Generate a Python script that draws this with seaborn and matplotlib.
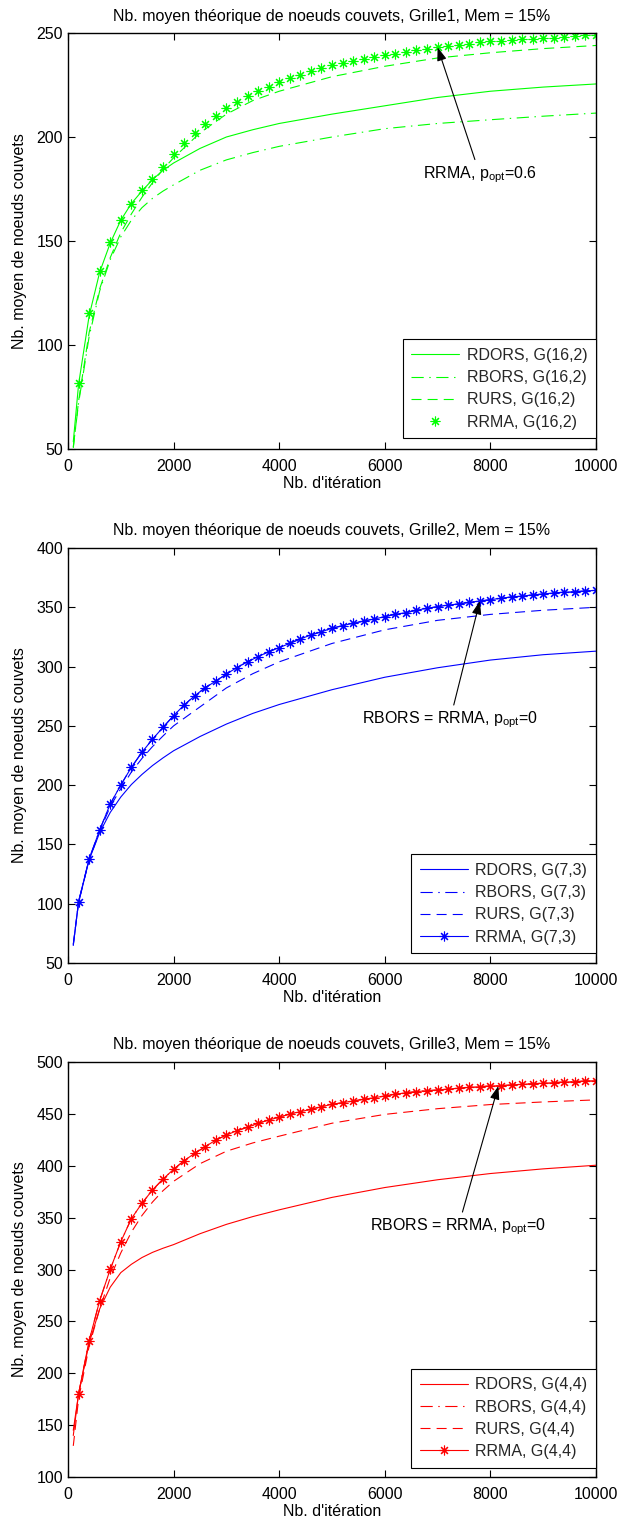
import matplotlib
matplotlib.use("Agg")
import matplotlib.pyplot as plt
import seaborn as sns

# ---------------- data ----------------
X_LINE = [100, 200, 400, 600, 800, 1000, 1200, 1400, 1600, 1800, 2000,
          2500, 3000, 3500, 4000, 5000, 6000, 7000, 8000, 9000, 10000]
X_RRMA = [200, 400, 600, 800, 1000, 1200, 1400, 1600, 1800, 2000,
          2200, 2400, 2600, 2800, 3000, 3200, 3400, 3600, 3800, 4000,
          4200, 4400, 4600, 4800, 5000, 5200, 5400, 5600, 5800, 6000,
          6200, 6400, 6600, 6800, 7000, 7200, 7400, 7600, 7800, 8000,
          8200, 8400, 8600, 8800, 9000, 9200, 9400, 9600, 9800, 10000]
X_START = 100

# Grille1, G(16,2)
RDORS_1 = [53.5, 81, 114, 135, 149, 160, 168, 174, 179.5, 184, 187.5,
           194.5, 200, 203.5, 206.5, 211, 215, 219, 222, 224, 225.5]
RBORS_1 = [51, 72, 104, 126, 141, 152, 160, 166, 170.5, 174, 177,
           184, 189, 192.5, 195.5, 200, 204, 206.5, 208.3, 210, 211.5]
RURS_1 = [50.5, 73, 106, 127, 142, 154, 163, 171, 178, 184.5, 190,
          202, 211, 217.5, 222, 229, 234, 238, 240.5, 242.5, 244]
RRMA_1 = [81.6, 115.2, 135.7, 149.4, 160, 167.9, 174.4, 179.7, 185.7, 191.7,
          197.3, 201.8, 206.1, 210.1, 213.8, 216.9, 219.7, 222, 224.2, 226.5,
          228.4, 230, 231.9, 233.2, 234.5, 235.7, 236.5, 237.5, 238.5, 239.3,
          240.1, 241, 241.7, 242.3, 243.1, 243.8, 244.4, 244.9, 245.5, 246,
          246.3, 246.7, 246.9, 247.1, 247.5, 247.8, 248.1, 248.5, 248.8, 249]

# Grille2, G(7,3)
RDORS_2 = [65, 101, 137, 160, 177, 190, 200.5, 209, 216.5, 223, 229,
           241, 251.5, 260.5, 268, 280.5, 291, 299, 305.5, 310, 313]
RURS_2 = [66, 101, 137, 161, 182, 197, 211, 222.5, 232.5, 241.5, 250,
          266, 282, 294, 304, 319.5, 331, 339, 344, 347.5, 350]
RRMA_2_START = 65
RRMA_2 = [101.7, 137.7, 162.2, 184.1, 200.1, 215, 227.7, 238.7, 248.8, 258.6,
          267.6, 275.4, 282.2, 287.8, 293.7, 299.2, 304.1, 308.3, 312.6, 315.9,
          319.6, 323.3, 326.6, 329.4, 332.3, 334.5, 336.5, 338.4, 340.1, 342.1,
          344.1, 345.5, 347.5, 349.2, 350.5, 351.9, 352.8, 354.2, 355.3, 356.4,
          357.6, 358.7, 359.5, 360.4, 361.2, 362.1, 362.7, 363.2, 363.7, 364.3]
RBORS_2 = RRMA_2  # RBORS = RRMA

# Grille3, G(4,4)
RDORS_3 = [145, 180, 229, 262, 283, 297, 305, 311.5, 316.5, 320.5, 324,
           334.5, 343.5, 351, 357.5, 369.5, 379, 386.5, 392.5, 397, 400.5]
RURS_3 = [130, 175, 226, 262, 292, 316, 336, 352, 365, 376, 385,
          402, 414, 422, 428.5, 441, 449.5, 455, 459, 461.5, 463.5]
RRMA_3_START = 140
RRMA_3 = [180, 231.4, 270, 300.2, 326.8, 349, 363.8, 376.6, 387.2, 396.6,
          404.9, 412, 418.4, 424.8, 429.6, 433.8, 437.1, 440.9, 444.1, 446.7,
          449.9, 452.1, 454.4, 456.9, 459.2, 460.8, 462.4, 464.1, 465.6, 467.2,
          468.9, 470.4, 471.4, 472.4, 473, 474, 474.7, 475.6, 476.2, 476.9,
          477.2, 477.9, 478.5, 479.1, 479.5, 480.1, 480.7, 481, 481.7, 482]
RBORS_3 = RRMA_3  # RBORS = RRMA

TITLES = ["Nb. moyen théorique de noeuds couvets, Grille1, Mem = 15%",
          "Nb. moyen théorique de noeuds couvets, Grille2, Mem = 15%",
          "Nb. moyen théorique de noeuds couvets, Grille3, Mem = 15%"]
GRIDS = ["G(16,2)", "G(7,3)", "G(4,4)"]
NOTES = [r"RRMA, $\mathregular{p_{opt}}$=0.6",
         r"RBORS = RRMA, $\mathregular{p_{opt}}$=0",
         r"RBORS = RRMA, $\mathregular{p_{opt}}$=0"]
XLABEL = "Nb. d'itération"
YLABEL = "Nb. moyen de noeuds couvets"
X_TICKS = [0, 2000, 4000, 6000, 8000, 10000]

# ---------------- style ----------------
sns.set_theme(style="white")
plt.rcParams["font.family"] = ["Liberation Sans", "DejaVu Sans"]
plt.rcParams["mathtext.fontset"] = "custom"
plt.rcParams["mathtext.rm"] = "Liberation Sans"
FS = 11.5
LW = 0.8
DASH = (0, (9, 5.5))
DASHDOT = (0, (11, 5, 1.3, 5))
AST = (8, 2, 0)

fig = plt.figure(figsize=(6.2, 15.24), dpi=100)
L, W = 68 / 620, 528 / 620
axes = [fig.add_axes([L, 1 - 449 / 1524, W, 416 / 1524]),
        fig.add_axes([L, 1 - 963 / 1524, W, 415 / 1524]),
        fig.add_axes([L, 1 - 1477 / 1524, W, 415 / 1524])]

panels = [
    dict(color="#00ff00", rdors=RDORS_1, rbors_x=X_LINE, rbors=RBORS_1, rurs=RURS_1,
         rrma=RRMA_1, rrma_line=False, ylim=(50, 250), yticks=[50, 100, 150, 200, 250],
         tip=(7000, 243.1), txt=(7800, 182)),
    dict(color="#0000ff", rdors=RDORS_2, rbors_x=X_RRMA, rbors=RBORS_2, rurs=RURS_2,
         rrma=RRMA_2, rrma_start=RRMA_2_START, rrma_line=True, ylim=(50, 400),
         yticks=[50, 100, 150, 200, 250, 300, 350, 400],
         tip=(7800, 355.3), txt=(7235, 255)),
    dict(color="#ff0000", rdors=RDORS_3, rbors_x=X_RRMA, rbors=RBORS_3, rurs=RURS_3,
         rrma=RRMA_3, rrma_start=RRMA_3_START, rrma_line=True, ylim=(100, 500),
         yticks=[100, 150, 200, 250, 300, 350, 400, 450, 500],
         tip=(8150, 476.8), txt=(7390, 341)),
]
legend_gap = [10.7 / 416, 9.7 / 415, 9.3 / 415]

for i, (ax, p) in enumerate(zip(axes, panels)):
    c = p["color"]
    g = GRIDS[i]
    sns.lineplot(x=X_LINE, y=p["rdors"], ax=ax, color=c, lw=LW, label=f"RDORS, {g}")
    sns.lineplot(x=p["rbors_x"], y=p["rbors"], ax=ax, color=c, lw=LW,
                 linestyle=DASHDOT, label=f"RBORS, {g}")
    sns.lineplot(x=X_LINE, y=p["rurs"], ax=ax, color=c, lw=LW,
                 linestyle=DASH, label=f"RURS, {g}")
    if p["rrma_line"]:
        xs = [X_START] + X_RRMA
        ys = [p["rrma_start"]] + p["rrma"]
        sns.lineplot(x=xs, y=ys, ax=ax, color=c, lw=LW, label=f"RRMA, {g}")
        ln = ax.lines[-1]
        ln.set_linestyle("-")
        ln.set_markevery(list(range(1, len(xs))))
    else:
        sns.lineplot(x=X_RRMA, y=p["rrma"], ax=ax, color=c, lw=LW, label=f"RRMA, {g}")
        ln = ax.lines[-1]
        ln.set_linestyle("None")
    ln.set_marker(AST)
    ln.set_markersize(7)
    ln.set_markeredgewidth(0.8)
    ln.set_markeredgecolor(c)
    ln.set_markerfacecolor(c)

    ax.set_xlim(0, 10000)
    ax.set_ylim(*p["ylim"])
    ax.set_xticks(X_TICKS)
    ax.set_xticklabels([str(t) for t in X_TICKS])
    ax.set_yticks(p["yticks"])
    ax.set_yticklabels([str(t) for t in p["yticks"]])
    ax.tick_params(direction="in", length=5, width=0.8, labelsize=FS,
                   top=True, right=True, bottom=True, left=True, colors="black")
    ax.tick_params(axis="x", pad=7)
    ax.tick_params(axis="y", pad=3.5)
    for s in ax.spines.values():
        s.set_color("black")
        s.set_linewidth(1.0)
    ax.set_xlabel(XLABEL, fontsize=FS, labelpad=1.5, color="black")
    ax.set_ylabel(YLABEL, fontsize=FS, color="black")
    ax.yaxis.set_label_coords(-0.078, 0.5)
    ax.set_title(TITLES[i], fontsize=FS, pad=9, color="black")

    leg = ax.legend(loc="lower right", bbox_to_anchor=(1.0, legend_gap[i]),
                    borderaxespad=0, frameon=True, fancybox=False, framealpha=1,
                    edgecolor="black", fontsize=FS, handlelength=3.0,
                    handletextpad=0.45, borderpad=0.55, labelspacing=0.45,
                    numpoints=1)
    leg.get_frame().set_linewidth(0.8)

    ax.annotate(NOTES[i], xy=p["tip"], xytext=p["txt"], ha="center", va="center",
                fontsize=FS, color="black",
                arrowprops=dict(arrowstyle="-|>,head_length=0.7,head_width=0.25",
                                color="black", lw=0.8, shrinkA=1, shrinkB=0))

fig.savefig("out.png", dpi=100, facecolor="white")
